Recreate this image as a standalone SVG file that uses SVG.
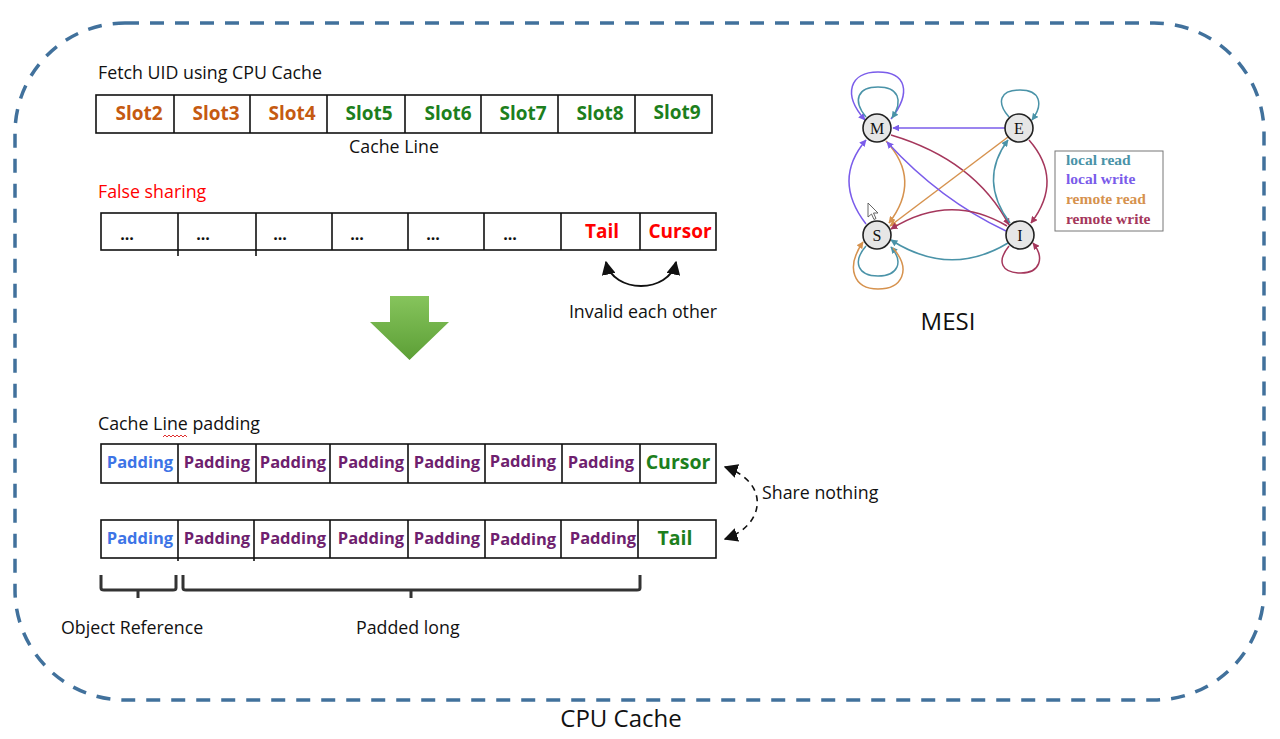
<svg xmlns="http://www.w3.org/2000/svg" width="1280" height="739" viewBox="0 0 1280 739">
<style>
.t{font-family:"Open Sans","Noto Sans","Liberation Sans",sans-serif;fill:#111}
.b{font-weight:bold}
.cell{fill:#fff;stroke:#111;stroke-width:1.6}
.div{stroke:#111;stroke-width:1.6}
.or{fill:#c55a11}.gr{fill:#1d7f1d}.rd{fill:#ff0000}.bl{fill:#3d74e6}.pu{fill:#6e1f6e}
.node circle{fill:#e6e6e6;stroke:#222;stroke-width:1.6}
.node text{font-family:"Liberation Serif",serif;font-size:16px;fill:#111;text-anchor:middle}
.e{fill:none;stroke-width:1.5}
.lr{stroke:#4a93a8}.lw{stroke:#7a5cea}.rr{stroke:#d6924e}.rw{stroke:#a5375c}
.leg{font-family:"Liberation Serif",serif;font-size:15.5px;font-weight:bold}
.brace{fill:none;stroke:#333;stroke-width:3;stroke-linejoin:round}
</style>
<defs>
<marker id="aLR" viewBox="0 0 10 10" refX="9" refY="5" markerWidth="7" markerHeight="7" orient="auto" markerUnits="userSpaceOnUse"><path d="M0,0L10,5L0,10z" fill="#4a93a8"/></marker>
<marker id="aLW" viewBox="0 0 10 10" refX="9" refY="5" markerWidth="7" markerHeight="7" orient="auto" markerUnits="userSpaceOnUse"><path d="M0,0L10,5L0,10z" fill="#7a5cea"/></marker>
<marker id="aRR" viewBox="0 0 10 10" refX="9" refY="5" markerWidth="7" markerHeight="7" orient="auto" markerUnits="userSpaceOnUse"><path d="M0,0L10,5L0,10z" fill="#d6924e"/></marker>
<marker id="aRW" viewBox="0 0 10 10" refX="9" refY="5" markerWidth="7" markerHeight="7" orient="auto" markerUnits="userSpaceOnUse"><path d="M0,0L10,5L0,10z" fill="#a5375c"/></marker>
<marker id="aK" viewBox="0 0 10 10" refX="9" refY="5" markerWidth="14" markerHeight="14" orient="auto-start-reverse" markerUnits="userSpaceOnUse"><path d="M0,0L10,5L0,10z" fill="#111"/></marker>
<linearGradient id="gArrow" x1="0" y1="0" x2="0" y2="1"><stop offset="0" stop-color="#86c45c"/><stop offset="1" stop-color="#5c9f36"/></linearGradient>
</defs>

<rect x="15" y="23" width="1249" height="677" rx="110" ry="110" fill="none" stroke="#41719c" stroke-width="3.5" stroke-dasharray="14 11"/>
<text class="t" x="621" y="727" font-size="24" text-anchor="middle">CPU Cache</text>

<g id="fetch-uid">
<text class="t" x="98" y="79" font-size="17.8">Fetch UID using CPU Cache</text>
<rect class="cell" x="96" y="95" width="616" height="38"/>
<path class="div" d="M174,95V133M250,95V133M327,95V133M405,95V133M481,95V133M558,95V133M635,95V133"/>
<g class="t b" font-size="19" text-anchor="middle">
<text class="or" x="139" y="120">Slot2</text>
<text class="or" x="216" y="120">Slot3</text>
<text class="or" x="292" y="120">Slot4</text>
<text class="gr" x="369" y="120">Slot5</text>
<text class="gr" x="448" y="120">Slot6</text>
<text class="gr" x="523" y="120">Slot7</text>
<text class="gr" x="600" y="120">Slot8</text>
<text class="gr" x="677" y="119">Slot9</text>
</g>
<text class="t" x="394" y="153" font-size="17.8" text-anchor="middle">Cache Line</text>
</g>

<g id="false-sharing">
<text class="t rd" x="98" y="198" font-size="17.8">False sharing</text>
<rect class="cell" x="101" y="213" width="615" height="37"/>
<path class="div" d="M178,213V256M256,213V256M332,213V250M408,213V250M484,213V250M561,213V250M640,213V250"/>
<g class="t b" font-size="16" text-anchor="middle">
<text x="127" y="240">...</text>
<text x="203" y="240">...</text>
<text x="280" y="240">...</text>
<text x="357" y="240">...</text>
<text x="433" y="240">...</text>
<text x="510" y="240">...</text>
</g>
<g class="t b rd" font-size="19" text-anchor="middle">
<text class="rd" x="602" y="238">Tail</text>
<text class="rd" x="680" y="238">Cursor</text>
</g>
<text class="t" x="643" y="318" font-size="17.8" text-anchor="middle">Invalid each other</text>
</g>

<g id="down-arrow">
<path d="M390,296H429V322H449L409.5,360L370,322H390Z" fill="url(#gArrow)"/>
</g>

<g id="padding">
<text class="t" x="98" y="430" font-size="17.8">Cache Line padding</text>
<path d="M163,437l2,-2l2,2l2,-2l2,2l2,-2l2,2l2,-2l2,2l2,-2l2,2l2,-2l2,2" fill="none" stroke="#e03030" stroke-width="1"/>
<rect class="cell" x="101" y="444" width="615" height="39"/>
<path class="div" d="M178,444V483M256,444V483M330,444V483M408,444V483M485,444V483M562,444V483M640,444V483"/>
<g class="t b" font-size="16.5" text-anchor="middle">
<text class="bl" x="140" y="468">Padding</text>
<text class="pu" x="217" y="468">Padding</text>
<text class="pu" x="293" y="468">Padding</text>
<text class="pu" x="371" y="468">Padding</text>
<text class="pu" x="447" y="468">Padding</text>
<text class="pu" x="523" y="467">Padding</text>
<text class="pu" x="601" y="468">Padding</text>
</g>
<text class="t b gr" x="678" y="469" font-size="19.5" text-anchor="middle">Cursor</text>

<rect class="cell" x="101" y="520" width="615" height="38"/>
<path class="div" d="M178,520V561M254,520V561M330,520V558M408,520V558M485,520V558M561,520V558M638,520V558"/>
<g class="t b" font-size="16.5" text-anchor="middle">
<text class="bl" x="140" y="544">Padding</text>
<text class="pu" x="217" y="544">Padding</text>
<text class="pu" x="293" y="544">Padding</text>
<text class="pu" x="371" y="544">Padding</text>
<text class="pu" x="447" y="544">Padding</text>
<text class="pu" x="523" y="545">Padding</text>
<text class="pu" x="603" y="544">Padding</text>
</g>
<text class="t b gr" x="675" y="545" font-size="19.5" text-anchor="middle">Tail</text>
<text class="t" x="762" y="499" font-size="17.8">Share nothing</text>

<path class="brace" d="M101,575V588Q101,590 104,590H173Q176,590 176,588V575M138,590V598"/>
<path class="brace" d="M183,575V588Q183,590 186,590H637Q640,590 640,588V575M411,590V598"/>
<text class="t" x="61" y="634" font-size="17.8">Object Reference</text>
<text class="t" x="356" y="634" font-size="17.8">Padded long</text>
</g>

<g id="connectors">
<path d="M606,262C613,294 669,294 676,262" fill="none" stroke="#111" stroke-width="2" marker-start="url(#aK)" marker-end="url(#aK)"/>
<path d="M725,467C770,482 766,525 725,539" fill="none" stroke="#111" stroke-width="1.6" stroke-dasharray="6 5" marker-start="url(#aK)" marker-end="url(#aK)"/>
</g>

<g id="mesi-edges">
<path class="e lw" d="M891,119C912,92 906,72 878,72C850,72 842,94 865,120" marker-end="url(#aLW)"/>
<path class="e lr" d="M866,117C852,100 858,87 878,87C898,87 904,100 892,118" marker-end="url(#aLR)"/>
<path class="e lr" d="M1009,117C996,102 1000,90 1020,90C1040,90 1044,104 1032,120" marker-end="url(#aLR)"/>
<path class="e lr" d="M866,246C852,262 858,276 878,276C898,276 904,262 891,247" marker-end="url(#aLR)"/>
<path class="e rr" d="M893,248C912,270 902,289 878,289C854,289 845,268 863,242" marker-end="url(#aRR)"/>
<path class="e rw" d="M1009,246C996,262 1002,273 1021,273C1040,273 1045,258 1033,243" marker-end="url(#aRW)"/>
<path class="e lw" d="M1005,128H893" marker-end="url(#aLW)"/>
<path class="e rw" d="M891,135Q975,160 1009,225" marker-end="url(#aRW)"/>
<path class="e rw" d="M1029,140Q1064,180 1031,223" marker-end="url(#aRW)"/>
<path class="e lr" d="M1010,223Q978,180 1008,140" marker-end="url(#aLR)"/>
<path class="e rr" d="M1008,137L890,226" marker-end="url(#aRR)"/>
<path class="e rr" d="M886,141Q922,180 889,223" marker-end="url(#aRR)"/>
<path class="e lw" d="M866,224Q832,180 866,140" marker-end="url(#aLW)"/>
<path class="e lw" d="M1006,231Q940,200 887,142" marker-end="url(#aLW)"/>
<path class="e rw" d="M1007,226Q950,192 891,229" marker-end="url(#aRW)"/>
<path class="e lr" d="M1008,243Q950,278 891,240" marker-end="url(#aLR)"/>
</g>
<g id="node-M" class="node"><circle cx="877" cy="128" r="14"/><text x="877" y="134">M</text></g>
<g id="node-E" class="node"><circle cx="1019" cy="128" r="14"/><text x="1019" y="134">E</text></g>
<g id="node-S" class="node"><circle cx="877" cy="235" r="14"/><text x="877" y="241">S</text></g>
<g id="node-I" class="node"><circle cx="1020" cy="235" r="14"/><text x="1020" y="241">I</text></g>
<path d="M868,203L868,217L871.5,214L874,219.5L876,218.5L873.5,213L878,213Z" fill="#fff" stroke="#555" stroke-width="0.9"/>
<g id="legend">
<rect x="1055" y="151" width="108" height="80" fill="#fff" stroke="#777" stroke-width="1"/>
<text class="leg" x="1066" y="165" fill="#4a93a8">local read</text>
<text class="leg" x="1066" y="184" fill="#7a5cea">local write</text>
<text class="leg" x="1066" y="204" fill="#d6924e">remote read</text>
<text class="leg" x="1066" y="224" fill="#a5375c">remote write</text>
</g>
<text class="t" x="948" y="330" font-size="24" text-anchor="middle">MESI</text>
</svg>
